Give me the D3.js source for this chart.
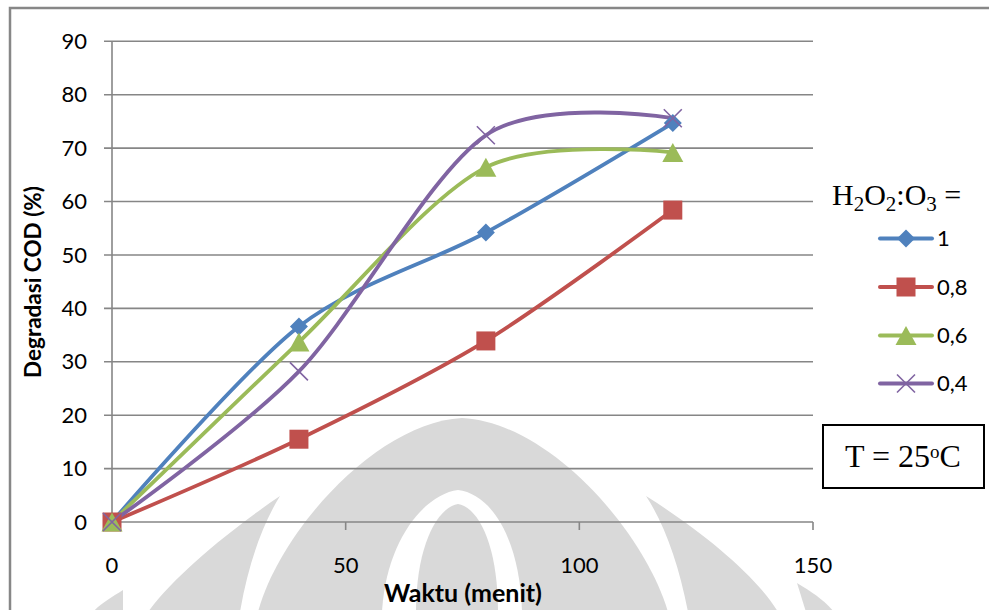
<!DOCTYPE html>
<html>
<head>
<meta charset="utf-8">
<script src="https://cdn.jsdelivr.net/npm/d3@7"></script>
<style>
html,body{margin:0;padding:0;background:#fff;}
svg{display:block;}
</style>
</head>
<body>
<svg id="chart" width="989" height="610"></svg>
<script>
// ---- data ----
const times = [0, 40, 80, 120];
const seriesNames = ["1", "0,8", "0,6", "0,4"];
const ratio1 = [0, 36.6, 54.2, 74.7];
const ratio08 = [0, 15.5, 33.9, 58.4];
const ratio06 = [0, 33.7, 66.4, 69.2];
const ratio04 = [0, 28.2, 72.4, 75.6];
const xTicks = [0, 50, 100, 150];
const yTicks = [0, 10, 20, 30, 40, 50, 60, 70, 80, 90];
const colors = ["#4F81BD", "#C0504D", "#9BBB59", "#8064A2"];
const markers = ["diamond", "square", "triangle", "x"];
const allSeries = [ratio1, ratio08, ratio06, ratio04];

const svg = d3.select("#chart");
const x = d3.scaleLinear().domain([0, 150]).range([112, 813]);
const y = d3.scaleLinear().domain([0, 90]).range([522, 41.3]);

// ---- watermark (background logo) ----
const wm = svg.append("g");
const wmc = "#d9d9d9";
wm.append("path").attr("fill", wmc)
  .attr("d", "M258,612 C280,530 378,422 462,418 C548,422 644,530 668,612 Z");
wm.append("path").attr("fill", "#fff")
  .attr("d", "M382,612 C386,540 425,494 458,490 C492,494 520,540 522,612 Z");
wm.append("path").attr("fill", wmc)
  .attr("d", "M416,612 C416,548 436,508 458,504 C480,508 498,548 498,612 Z");
wm.append("path").attr("fill", wmc)
  .attr("d", "M280,496 C230,530 175,575 148,612 L240,612 C248,565 262,525 280,496 Z");
wm.append("path").attr("fill", wmc)
  .attr("d", "M646,496 C700,530 756,575 778,612 L688,612 C679,565 665,525 646,496 Z");
wm.append("path").attr("fill", wmc)
  .attr("d", "M797,583 C812,592 824,600 834,612 L806,612 Z");
wm.append("path").attr("fill", wmc)
  .attr("d", "M123,590 C112,597 100,604 93,612 L123,612 Z");

// ---- outer border ----
svg.append("rect").attr("x", 10).attr("y", 8).attr("width", 1000).attr("height", 700)
  .attr("fill", "none").attr("stroke", "#878787").attr("stroke-width", 2.5);

// ---- gridlines ----
const grid = svg.append("g");
grid.selectAll("line").data(yTicks.filter(d => d > 0)).enter().append("line")
  .attr("x1", 104).attr("x2", x(150))
  .attr("y1", d => y(d)).attr("y2", d => y(d))
  .attr("stroke", "#868686").attr("stroke-width", 1.6);

// axes
svg.append("line").attr("x1", x(0)).attr("x2", x(0)).attr("y1", y(90)).attr("y2", y(0))
  .attr("stroke", "#868686").attr("stroke-width", 1.6);
svg.append("line").attr("x1", 104).attr("x2", x(150)).attr("y1", y(0)).attr("y2", y(0))
  .attr("stroke", "#868686").attr("stroke-width", 1.6);
svg.selectAll(".xt").data(xTicks).enter().append("line")
  .attr("x1", d => x(d)).attr("x2", d => x(d)).attr("y1", y(0)).attr("y2", y(0) + 8)
  .attr("stroke", "#868686").attr("stroke-width", 1.6);

const tickFont = "Lato, 'Open Sans', sans-serif";
svg.selectAll(".yl").data(yTicks).enter().append("text")
  .attr("x", 87).attr("y", d => y(d)).attr("dy", "0.35em")
  .attr("text-anchor", "end").attr("font-family", tickFont).attr("font-size", 22)
  .attr("fill", "#000").text(d => d);
svg.selectAll(".xl").data(xTicks).enter().append("text")
  .attr("x", d => x(d)).attr("y", 573)
  .attr("text-anchor", "middle").attr("font-family", tickFont).attr("font-size", 22)
  .attr("fill", "#000").text(d => d);

// axis titles
svg.append("text").attr("x", 463).attr("y", 602).attr("text-anchor", "middle")
  .attr("font-family", tickFont).attr("font-weight", "bold").attr("font-size", 25)
  .text("Waktu (menit)");
svg.append("text").attr("transform", "translate(41,282) rotate(-90)")
  .attr("text-anchor", "middle")
  .attr("font-family", tickFont).attr("font-weight", "bold").attr("font-size", 22.5)
  .text("Degradasi COD (%)");

// ---- marker drawing ----
function drawMarker(g, type, cx, cy, color) {
  if (type === "diamond") {
    const r = 9;
    g.append("path").attr("d", `M${cx},${cy - r}L${cx + r},${cy}L${cx},${cy + r}L${cx - r},${cy}Z`)
      .attr("fill", color);
  } else if (type === "square") {
    const s = 19;
    g.append("rect").attr("x", cx - s / 2).attr("y", cy - s / 2).attr("width", s).attr("height", s)
      .attr("fill", color);
  } else if (type === "triangle") {
    const w = 21, h = 19;
    g.append("path").attr("d", `M${cx},${cy - h / 2}L${cx + w / 2},${cy + h / 2}L${cx - w / 2},${cy + h / 2}Z`)
      .attr("fill", color);
  } else {
    const r = 9;
    g.append("path").attr("d", `M${cx - r},${cy - r}L${cx + r},${cy + r}M${cx - r},${cy + r}L${cx + r},${cy - r}`)
      .attr("stroke", color).attr("stroke-width", 1.6).attr("fill", "none");
  }
}

// ---- series ----
const line = d3.line().x(d => x(d[0])).y(d => y(d[1])).curve(d3.curveCardinal.tension(0.1));
const plot = svg.append("g");
allSeries.forEach((vals, i) => {
  const pts = times.map((t, j) => [t, vals[j]]);
  plot.append("path").attr("d", line(pts)).attr("fill", "none")
    .attr("stroke", colors[i]).attr("stroke-width", 3.8).attr("stroke-linecap", "round");
});
allSeries.forEach((vals, i) => {
  const g = plot.append("g");
  times.forEach((t, j) => drawMarker(g, markers[i], x(t), y(vals[j]), colors[i]));
});

// ---- legend ----
const lg = svg.append("g");
const titleT = lg.append("text").attr("x", 832).attr("y", 205)
  .attr("font-family", "'Liberation Serif', 'Times New Roman', serif").attr("font-size", 30).attr("fill", "#000");
titleT.append("tspan").text("H");
titleT.append("tspan").attr("font-size", 21).attr("dy", 6).text("2");
titleT.append("tspan").attr("dy", -6).text("O");
titleT.append("tspan").attr("font-size", 21).attr("dy", 6).text("2");
titleT.append("tspan").attr("dy", -6).text(":O");
titleT.append("tspan").attr("font-size", 21).attr("dy", 6).text("3");
titleT.append("tspan").attr("dy", -6).text(" =");

const rowY = [238.5, 287, 335.5, 383.5];
seriesNames.forEach((name, i) => {
  const yy = rowY[i];
  lg.append("line").attr("x1", 880).attr("x2", 932).attr("y1", yy).attr("y2", yy)
    .attr("stroke", colors[i]).attr("stroke-width", 4).attr("stroke-linecap", "round");
  drawMarker(lg, markers[i], 906, yy, colors[i]);
  lg.append("text").attr("x", 937).attr("y", yy).attr("dy", "0.36em")
    .attr("font-family", tickFont).attr("font-size", 22).attr("fill", "#000").text(name);
});

// ---- temperature box ----
svg.append("rect").attr("x", 823).attr("y", 425).attr("width", 161).attr("height", 63)
  .attr("fill", "#fff").attr("stroke", "#000").attr("stroke-width", 2);
const tt = svg.append("text").attr("x", 903).attr("y", 467).attr("text-anchor", "middle")
  .attr("font-family", "'Liberation Serif', 'Times New Roman', serif").attr("font-size", 32).attr("fill", "#000");
tt.append("tspan").text("T = 25");
tt.append("tspan").attr("font-size", 19).attr("dy", -9).text("o");
tt.append("tspan").attr("dy", 9).text("C");
</script>
</body>
</html>
